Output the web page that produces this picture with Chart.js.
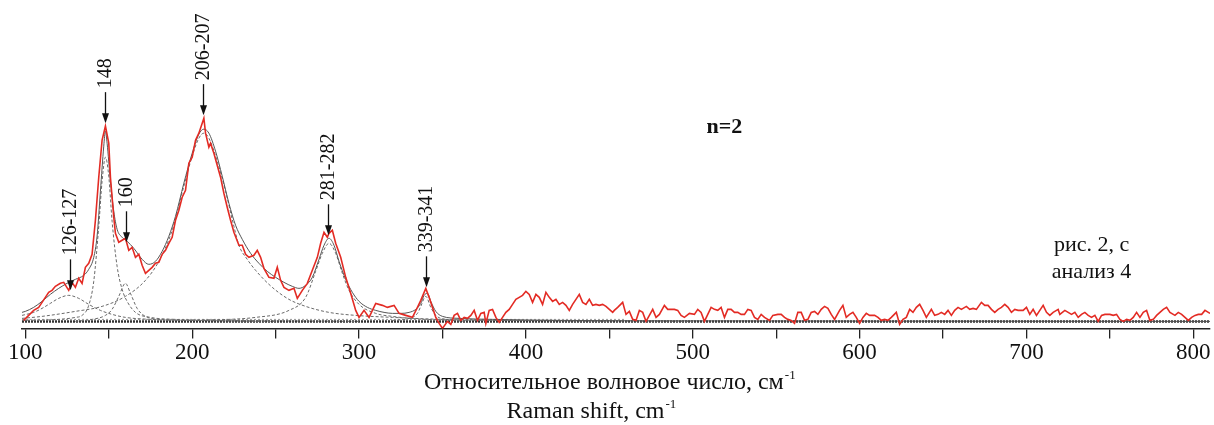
<!DOCTYPE html>
<html>
<head>
<meta charset="utf-8">
<script src="https://cdn.jsdelivr.net/npm/chart.js"></script>
<style>
  body { margin: 0; background: #fff; }
  canvas { display: block; }
</style>
</head>
<body>
<canvas id="raman" width="1214" height="425"></canvas>
<script>
// measured spectrum (Raman shift, cm-1 / intensity, arb. units)
const ramanX = [99,102,105,108,112,114,116,118,121,123,126,128,130,132,134,136,138,140,142,144,146,148,150,151,153,154,156,158,160,162,164,166,168,170,172,174,176,178,180,182,184,186,188,190,192,194,196,198,200,202,204,207,208,210,211,213,215,217,219,221,223,225,228,230,232,234,237,239,241,243,246,249,251,253,255,258,261,263,266,269,272,275,277,279,281,282,284,286,289,292,295,298,300,303,306,310,314,317,321,324,328,332,335,337,340,342,344,346,348,350,353,355,357,359,361,363,365,367,369,371,373,375,376,378,380,382,384,386,388,390,392,394,396,398,400,402,404,406,408,410,412,414,416,418,420,422,424,426,428,430,432,434,436,438,440,442,444,446,448,450,452,453,455,458,460,462,464,466,468,470,472,474,476,478,480,483,485,487,489,491,493,495,498,501,503,505,507,509,511,513,515,517,519,521,523,525,527,529,531,533,535,537,539,541,543,546,548,551,553,555,557,559,561,563,565,567,569,571,573,575,577,579,581,583,585,588,590,592,594,596,598,600,602,604,606,609,611,613,615,617,619,622,624,626,628,630,632,634,636,638,640,643,645,647,649,651,653,655,657,659,661,664,666,668,670,673,675,677,679,681,683,685,687,689,691,693,695,698,700,702,704,706,708,710,712,714,716,719,720,723,725,727,729,731,733,735,737,739,741,743,745,747,750,752,754,756,758,760,762,764,766,768,770,772,774,776,778,780,782,784,786,789,791,793,795,797,799,801,803,805,807,809,810];
const ramanY = [1,6,11,14,24,29,31,35,38,39,31,39,34,43,38,54,58,67,101,144,181,195,178,144,104,88,79,81,83,71,74,64,67,56,48,51,54,58,59,67,71,78,84,101,111,124,131,158,164,181,188,203,188,174,178,168,156,144,128,114,101,89,76,76,67,64,66,71,64,53,44,43,54,41,34,31,33,23,31,38,51,64,78,89,84,88,91,78,64,44,28,11,4,11,4,18,16,14,16,8,6,4,14,21,33,24,14,4,-2,-7,0,-3,6,8,1,4,3,6,11,1,8,9,-2,11,12,4,-1,4,9,12,17,22,24,26,30,27,19,27,24,17,29,24,20,22,17,19,16,11,17,22,27,19,17,22,16,17,16,17,15,12,9,11,14,19,7,10,2,1,11,9,0,6,12,4,7,16,12,12,12,11,6,4,8,7,12,9,0,7,14,12,11,14,4,12,12,9,9,7,7,12,11,4,2,7,4,1,6,7,7,4,2,1,-2,9,9,1,2,9,10,7,12,15,13,7,2,11,16,4,7,9,4,-2,4,8,6,6,4,1,2,1,4,9,-3,2,4,12,9,14,17,11,4,12,6,7,9,7,11,6,11,14,12,15,12,13,12,19,16,16,12,9,12,14,17,14,9,12,11,11,14,7,12,6,11,16,9,6,9,12,7,11,9,7,9,4,7,9,6,4,6,0,6,7,7,6,7,2,0,2,1,4,9,4,9,11,1,2,6,9,12,14,9,6,9,7,4,1,4,6,7,7,11,9,8];

// fitted envelope
const fitX = [98,100,105,110,115,120,125,130,135,138,141,143,145,147,148,149,151,153,155,158,161,165,170,174,178,182,186,190,195,200,204,207,210,214,218,222,226,230,235,240,245,250,255,260,264,268,272,276,279,282,285,288,292,296,300,305,310,315,320,325,330,334,337,339,341,343,346,350,360,380,420,500,600,810];
const fitY = [9,10,14,20,27,33,38,42,46,52,64,85,130,175,190,178,140,110,92,84,80,73,62,57,60,70,85,105,138,168,187,192,188,170,145,118,96,82,68,58,50,44,39,35,33,36,44,62,76,83,76,60,42,29,20,14,11,9,8,8,9,12,18,26,28,20,10,5,3,2,1,0.5,0.3,0];

// fitted component bands
const band126X = [98,105,110,115,120,126,132,138,145,152,160,175,200,250];
const band126Y = [6,9,13,18,23,26,23,17,11,7,4,2,1,0];
const band148X = [98,120,130,134,138,141,144,146,148,150,152,155,158,161,166,175,190,220,300];
const band148Y = [1,2,4,6,16,40,95,140,164,145,100,55,32,20,9,4,2,1,0];
const band160X = [130,140,148,152,156,160,163,167,171,180,200,240];
const band160Y = [0,2,6,12,25,38,28,13,6,2,1,0];
const band206X = [98,110,130,146,160,172,180,188,195,200,204,207,210,215,220,225,228,233,238,248,258,268,282,298,320,350,400,500];
const band206Y = [3,5,10,15,25,41,60,91,135,165,183,188,183,160,130,95,76,62,51,34,22,15,9,6,4,2,1,0];
const band281X = [200,238,258,268,274,278,282,286,290,294,300,310,320,340,380,450];
const band281Y = [1,4,11,24,50,68,78,68,48,31,17,8,5,2,1,0];
const band340X = [320,330,335,337,340,343,346,352,365];
const band340Y = [1,3,8,15,25,14,6,2,0];

const baseX = [98, 810];
const baseY = [0, 0];
const base2X = [98, 460];
const base2Y = [2, 2];

// peak labels
const peakLabels = ['126-127', '148', '160', '206-207', '281-282', '339-341'];
const peakPos = [126.5, 148, 160.5, 206.5, 281.5, 340];
const peakTip = [31, 198, 79, 206, 86, 34];

const xTicks = [100, 200, 300, 400, 500, 600, 700, 800];

function pts(xs, ys) {
  return xs.map((x, i) => ({ x: x, y: ys[i] }));
}

const serif = "'Liberation Serif', 'Times New Roman', serif";

function band(xs, ys) {
  return {
    data: pts(xs, ys),
    borderColor: '#6a6a6a',
    borderWidth: 1,
    borderDash: [3, 2],
    cubicInterpolationMode: 'monotone'
  };
}

const peakArrows = {
  id: 'peakArrows',
  afterDatasetsDraw(chart) {
    const { ctx, scales: { x, y } } = chart;
    ctx.save();
    ctx.fillStyle = '#111';
    ctx.strokeStyle = '#111';
    ctx.lineWidth = 1.3;
    ctx.font = '20px ' + serif;
    peakLabels.forEach((label, i) => {
      const px = Math.round(x.getPixelForValue(peakPos[i])) + 0.5;
      const tip = y.getPixelForValue(peakTip[i]);
      ctx.beginPath();
      ctx.moveTo(px, tip - 31);
      ctx.lineTo(px, tip - 8);
      ctx.stroke();
      ctx.beginPath();
      ctx.moveTo(px, tip);
      ctx.lineTo(px - 3.5, tip - 10);
      ctx.lineTo(px + 3.5, tip - 10);
      ctx.closePath();
      ctx.fill();
      ctx.save();
      ctx.translate(px, tip - 35);
      ctx.rotate(-Math.PI / 2);
      ctx.textAlign = 'left';
      ctx.textBaseline = 'middle';
      ctx.fillText(label, 0, 0);
      ctx.restore();
    });
    ctx.restore();
  }
};

function supText(ctx, text, sup, cx, y, size) {
  ctx.font = size + 'px ' + serif;
  const w1 = ctx.measureText(text).width;
  const small = Math.round(size * 0.55) + 'px ' + serif;
  ctx.font = small;
  const w2 = ctx.measureText(sup).width;
  const left = cx - (w1 + w2) / 2;
  ctx.font = size + 'px ' + serif;
  ctx.fillText(text, left, y);
  ctx.font = small;
  ctx.fillText(sup, left + w1 + 1, y - size * 0.45);
}

const notes = {
  id: 'notes',
  afterDraw(chart) {
    const { ctx, scales: { x, y } } = chart;
    const area = chart.chartArea;
    ctx.save();
    ctx.fillStyle = '#111';
    ctx.textAlign = 'left';
    ctx.textBaseline = 'alphabetic';
    supText(ctx, 'Относительное волновое число, см', '-1', x.getPixelForValue(450), area.bottom + 61, 24);
    supText(ctx, 'Raman shift, cm', '-1', x.getPixelForValue(439), area.bottom + 90, 24);

    ctx.textAlign = 'center';
    ctx.font = 'bold 22px ' + serif;
    ctx.fillText('n=2', x.getPixelForValue(519), y.getPixelForValue(188));
    ctx.font = '22px ' + serif;
    ctx.fillText('рис. 2, с', x.getPixelForValue(739), y.getPixelForValue(70));
    ctx.fillText('анализ 4', x.getPixelForValue(739), y.getPixelForValue(43));
    ctx.restore();
  }
};

const chart = new Chart(document.getElementById('raman'), {
  type: 'line',
  data: {
    datasets: [
      { data: pts(ramanX, ramanY), borderColor: '#e32b24', borderWidth: 1.6, tension: 0 },
      { data: pts(fitX, fitY), borderColor: '#555', borderWidth: 1, cubicInterpolationMode: 'monotone' },
      band(band126X, band126Y),
      band(band148X, band148Y),
      band(band160X, band160Y),
      band(band206X, band206Y),
      band(band281X, band281Y),
      band(band340X, band340Y),
      { data: pts(base2X, base2Y), borderColor: '#999', borderWidth: 1, borderDash: [2, 2] },
      { data: pts(baseX, baseY), borderColor: '#333', borderWidth: 2.5, borderDash: [2, 1] }
    ]
  },
  options: {
    responsive: false,
    animation: false,
    layout: { padding: { left: 22, right: 4, top: 10, bottom: 57 } },
    elements: { point: { radius: 0 } },
    plugins: { legend: { display: false }, tooltip: { enabled: false } },
    scales: {
      x: {
        type: 'linear',
        min: 98,
        max: 810,
        afterBuildTicks(s) {
          const t = [];
          for (let v = 100; v <= 800; v += 50) t.push({ value: v });
          s.ticks = t;
        },
        grid: { drawOnChartArea: false, tickLength: 10, color: '#222', lineWidth: 1.3 },
        border: { display: true, color: '#222', width: 1.5 },
        ticks: {
          autoSkip: false,
          maxRotation: 0,
          padding: 1,
          color: '#111',
          font: { family: serif, size: 23 },
          callback: v => xTicks.includes(v) ? v : ''
        }
      },
      y: { display: false, min: -7, max: 311 }
    }
  },
  plugins: [peakArrows, notes]
});
</script>
</body>
</html>
